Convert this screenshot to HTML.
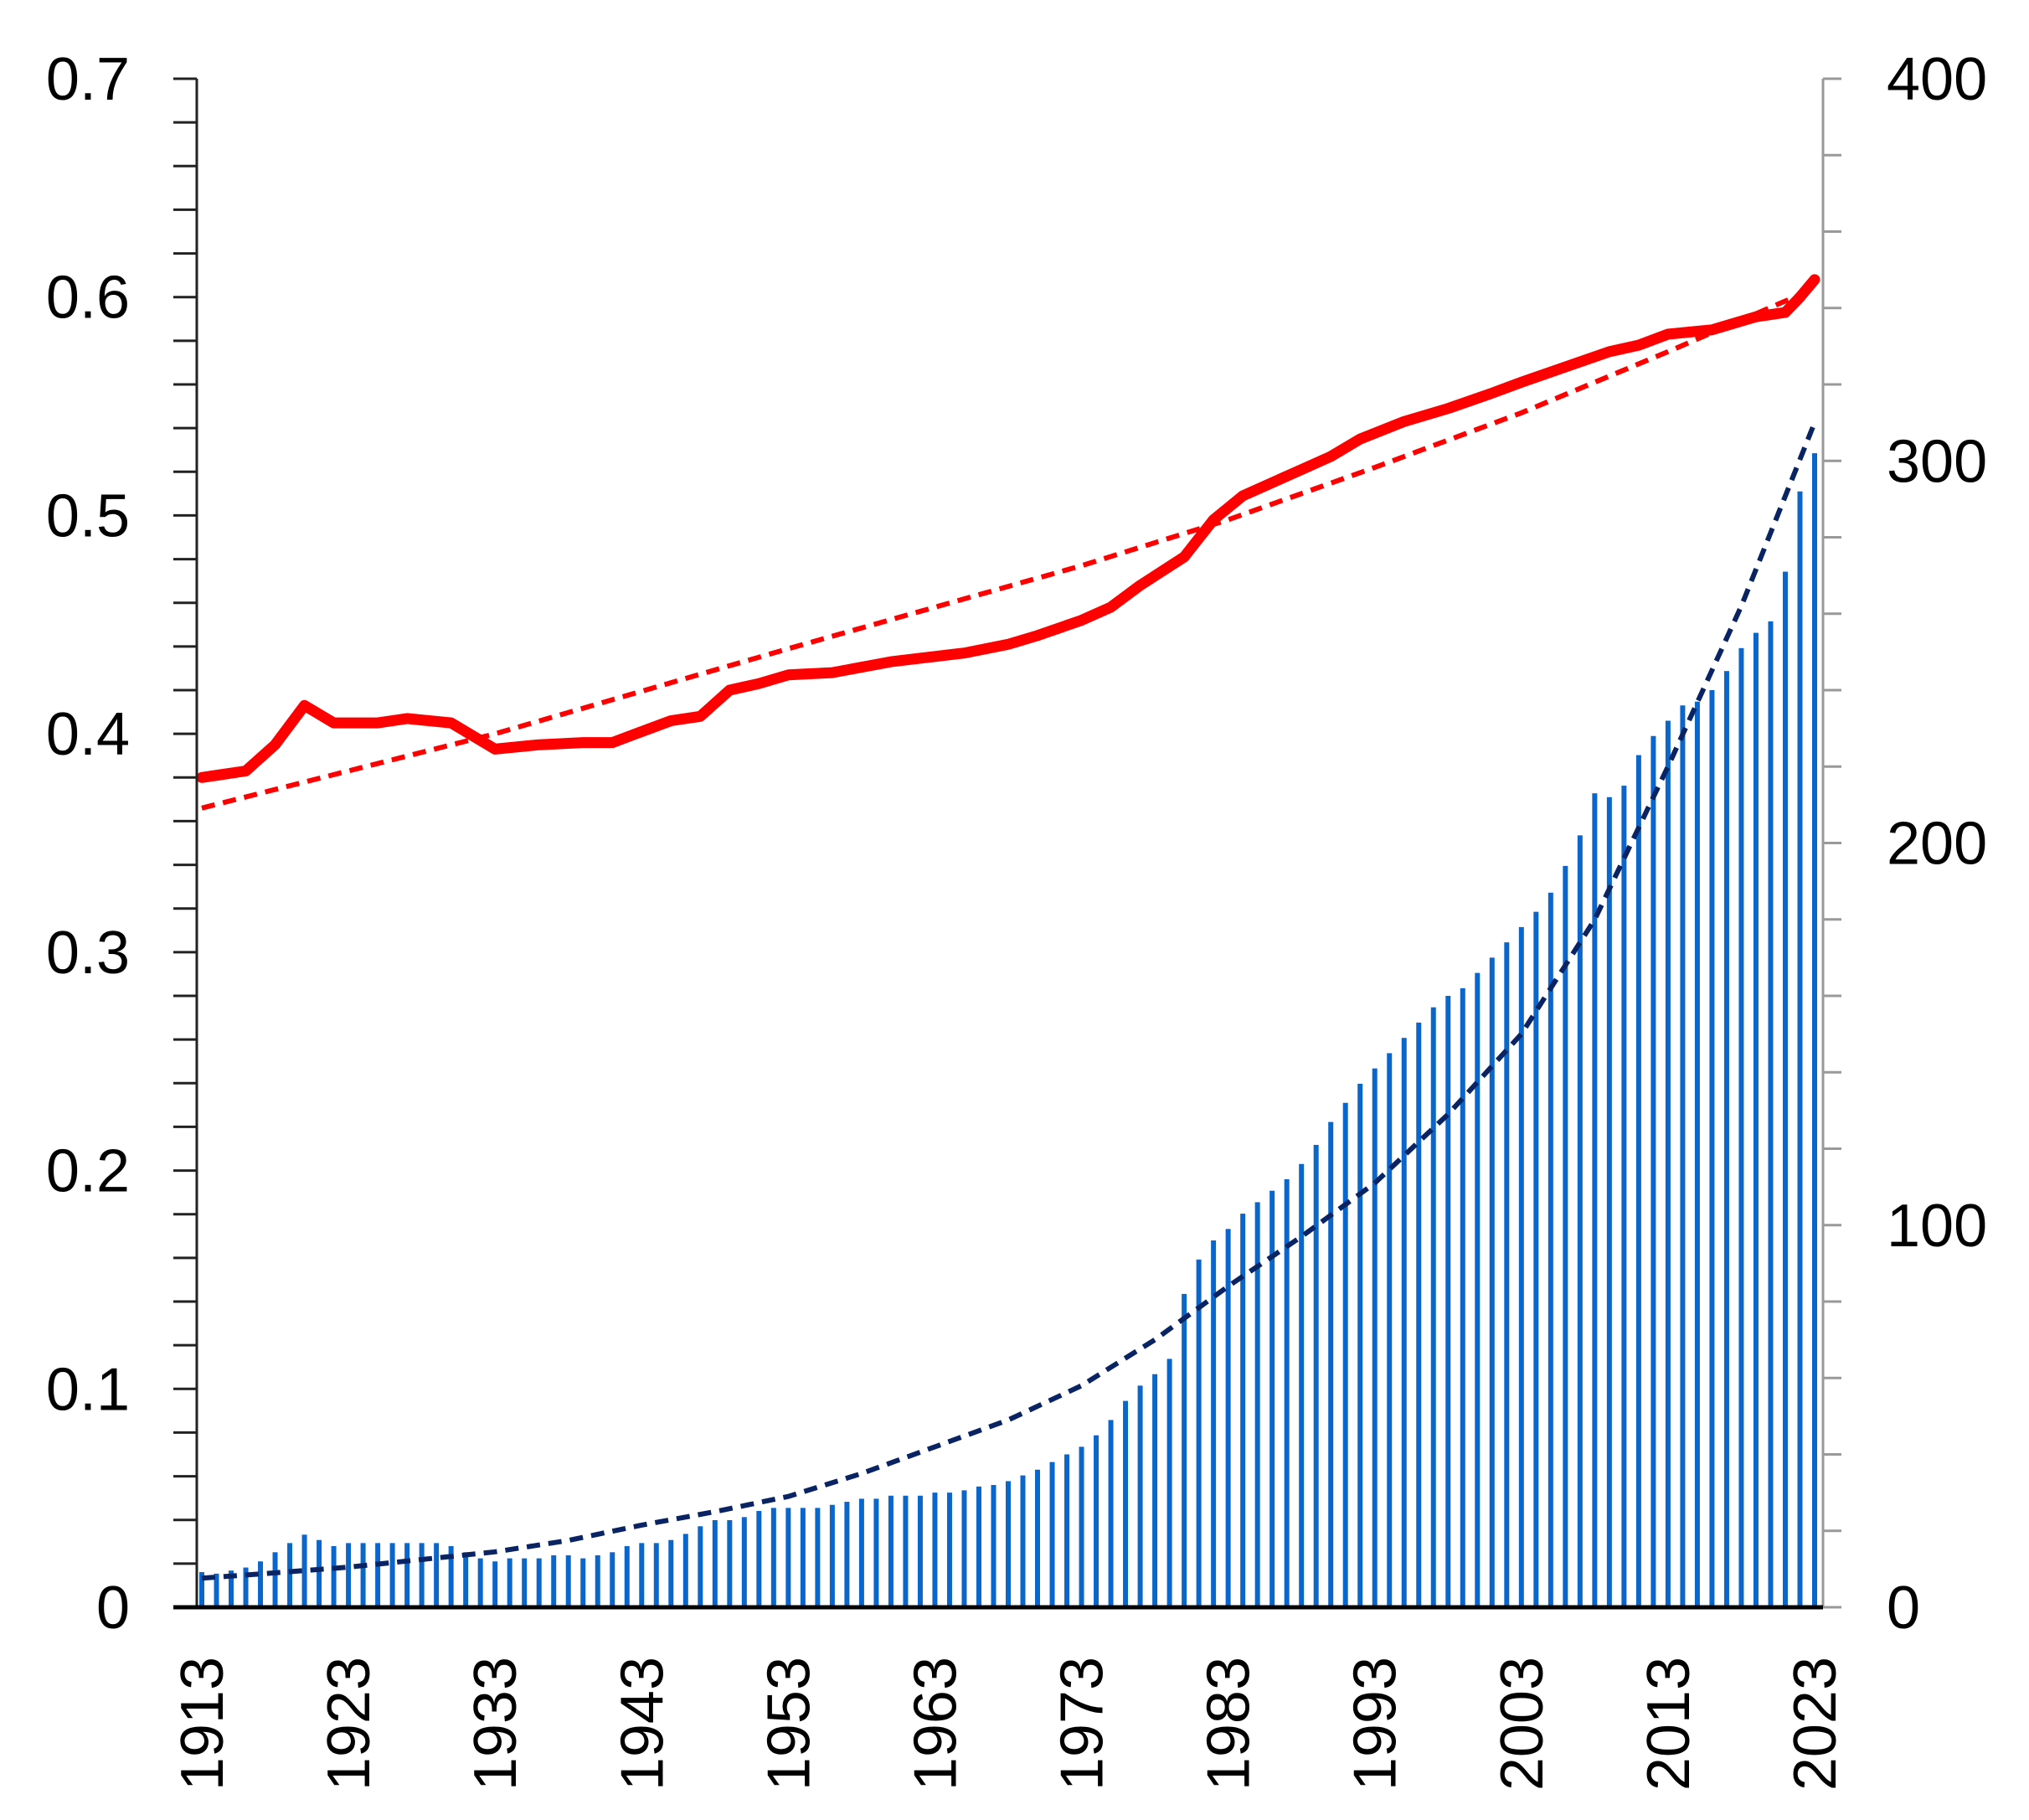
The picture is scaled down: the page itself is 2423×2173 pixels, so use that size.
<!DOCTYPE html>
<html><head><meta charset="utf-8"><style>
html,body{margin:0;padding:0;background:#fff;}
svg{display:block;font-family:"Liberation Sans","DejaVu Sans",sans-serif;}
</style></head><body>
<svg id="chart" width="2423" height="2173" viewBox="0 0 2423 2173" xmlns="http://www.w3.org/2000/svg">
<g id="bars"></g>
<g id="lines"></g>
<g id="axes"></g>
</svg>
<script>
const years = [];
for (let y = 1913; y <= 2023; y++) years.push(y);
const barValues = [9.2,8.8,9.6,10.4,12,14.4,16.8,19,17.6,16,16.8,16.8,16.8,16.8,16.8,16.8,16.8,16,14.4,12.8,12,12.8,12.8,12.8,13.6,13.6,12.8,13.6,14.4,16,16.8,16.8,17.6,19.2,21.2,22.8,22.8,23.6,25.2,26,26,26,26,26.8,27.6,28.4,28.4,29.2,29.2,29.2,30,30,30.6,31.6,32,
33,34.5,36,38,40,42,45,49,54,58,61,65,82,91,96,99,103,106,109,112,116,121,127,132,137,141,145,149,153,157,160,162,166,170,174,178,182,187,194,202,213,212,215,223,228,232,236,237,240,245,251,255,258,271,292,302];
const blueTrendYears = [1913,1918,1923,1928,1933,1938,1943,1948,1953,1958,1963,1968,1973,1978,1983,1988,1993,1998,2003,2008,2013,2018,2023];
const blueTrendValues = [7.6,9,10.5,12.5,14.5,17.5,21.5,25,29,35,42,49,58,70,84,97,111,129,150,180,220,262,310];
const redYears = [1913,1916,1918,1920,1922,1925,1927,1930,1933,1936,1939,1941,1943,1945,1947,1949,1951,1953,1956,1960,1965,1968,1970,1973,1975,1977,1980,1982,1984,1986,1988,1990,1992,1995,1998,2001,2003,2006,2009,2011,2013,2016,2019,2021,2022,2023];
const redValues = [0.380,0.383,0.395,0.413,0.405,0.405,0.407,0.405,0.393,0.395,0.396,0.396,0.401,0.406,0.408,0.420,0.423,0.427,0.428,0.433,0.437,0.441,0.445,0.452,0.458,0.468,0.481,0.498,0.509,0.515,0.521,0.527,0.535,0.543,0.549,0.556,0.561,0.568,0.575,0.578,0.583,0.585,0.591,0.593,0.600,0.608];
const redTrendYears = [1913,1933,1953,1973,1983,1993,2003,2013,2023];
const redTrendValues = [0.366,0.400,0.439,0.477,0.498,0.522,0.547,0.575,0.604];
const leftTicks = ["0","0.1","0.2","0.3","0.4","0.5","0.6","0.7"];
const rightTicks = ["0","100","200","300","400"];
const xTickYears = [1913,1923,1933,1943,1953,1963,1973,1983,1993,2003,2013,2023];

const NS = "http://www.w3.org/2000/svg";
const AX_L = 235, AX_R = 2177, Y0 = 1919, Y1 = 94;
const X0 = 241, X1 = 2167;
const xS = y => X0 + (y - 1913) * (X1 - X0) / 110;
const yL = v => Y0 - v / 0.7 * (Y0 - Y1);
const yR = v => Y0 - v / 400 * (Y0 - Y1);
function mk(tag, attrs, parent) {
  const e = document.createElementNS(NS, tag);
  for (const k in attrs) e.setAttribute(k, attrs[k]);
  parent.appendChild(e);
  return e;
}
const gb = document.getElementById('bars'), gl = document.getElementById('lines'), ga = document.getElementById('axes');
years.forEach((yr, i) => {
  const top = yR(barValues[i]);
  const r = mk('rect', {x: xS(yr) - 3, y: top, width: 6, height: Y0 - top, fill: '#0b66cc'}, gb);
  
  
});
function pathD(xs, ys, fy) { return xs.map((x, i) => (i ? 'L' : 'M') + xS(x).toFixed(1) + ' ' + fy(ys[i]).toFixed(1)).join(' '); }
let p = mk('path', {d: pathD(blueTrendYears, blueTrendValues, yR), fill: 'none', stroke: '#0a2463', 'stroke-width': 6, 'stroke-dasharray': '16 10'}, gl);


p = mk('path', {d: pathD(redTrendYears, redTrendValues, yL), fill: 'none', stroke: '#ff0000', 'stroke-width': 6, 'stroke-dasharray': '16 10'}, gl);


p = mk('path', {d: pathD(redYears, redValues, yL), fill: 'none', stroke: '#ff0000', 'stroke-width': 13, 'stroke-linejoin': 'round', 'stroke-linecap': 'round'}, gl);



let a = mk('line', {x1: AX_L, y1: Y1, x2: AX_L, y2: Y0, stroke: '#222', 'stroke-width': 3}, ga);
 
a = mk('line', {x1: AX_R, y1: Y1, x2: AX_R, y2: Y0, stroke: '#999', 'stroke-width': 3}, ga);
 
for (let k = 0; k <= 35; k++) {
  const y = yL(k * 0.02);
  const t = mk('line', {x1: AX_L - 28, y1: y, x2: AX_L, y2: y, stroke: '#222', 'stroke-width': 3}, ga);
   
}
for (let k = 0; k <= 20; k++) {
  const y = yR(k * 20);
  const t = mk('line', {x1: AX_R, y1: y, x2: AX_R + 22, y2: y, stroke: '#999', 'stroke-width': 3}, ga);
   
}
a = mk('line', {x1: AX_L - 28, y1: Y0, x2: AX_R, y2: Y0, stroke: '#000', 'stroke-width': 5}, ga);
 
leftTicks.forEach((s, i) => {
  const t = mk('text', {x: 155, y: yL(i * 0.1) + 25, 'text-anchor': 'end', 'font-size': 72, fill: '#000'}, ga);
  t.textContent = s;
   
});
rightTicks.forEach((s, i) => {
  const t = mk('text', {x: 2253, y: yR(i * 100) + 25, 'text-anchor': 'start', 'font-size': 72, fill: '#000'}, ga);
  t.textContent = s;
   
});
xTickYears.forEach(yr => {
  const x = xS(yr) + 25;
  const t = mk('text', {x: x, y: 1978, 'text-anchor': 'end', 'font-size': 72, fill: '#000', transform: 'rotate(-90 ' + x + ' 1978)'}, ga);
  t.textContent = String(yr);
   
});
</script>
</body></html>
